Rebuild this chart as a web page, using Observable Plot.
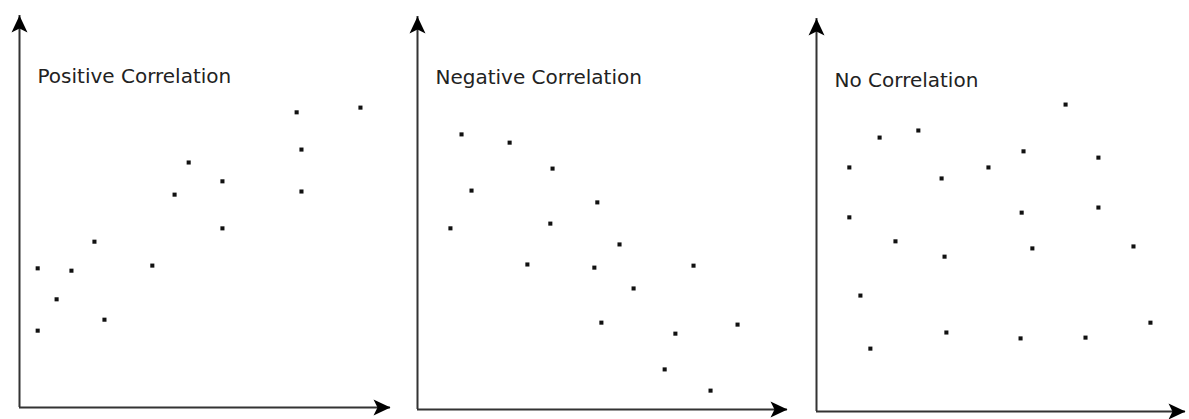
<!DOCTYPE html>
<html>
<head>
<meta charset="utf-8">
<script src="https://cdn.jsdelivr.net/npm/d3@7"></script>
<script src="https://cdn.jsdelivr.net/npm/@observablehq/plot@0.6"></script>
<style>
  html, body { margin: 0; padding: 0; background: #fff; }
  #row { display: flex; flex-direction: row; width: 1189px; height: 419px; }
  #row svg { display: block; }
</style>
</head>
<body>
<div id="row"></div>
<script>
// Panel titles
const titles = ["Positive Correlation", "Negative Correlation", "No Correlation"];

// Positive correlation (x, y in 0–10 axis units)
const positiveX = [7.47, 9.19, 7.60, 4.56, 5.47, 4.18, 7.60, 5.47, 2.02, 0.49, 1.40, 3.58, 1.00, 2.29, 0.49];
const positiveY = [7.53, 7.65, 6.58, 6.25, 5.77, 5.43, 5.51, 4.57, 4.23, 3.55, 3.49, 3.62, 2.76, 2.24, 1.96];

// Negative correlation
const negativeX = [1.19, 2.49, 3.65, 1.46, 4.86, 3.59, 0.89, 5.46, 2.97, 4.78, 7.46, 5.84, 4.97, 8.65, 6.97, 6.68, 7.92];
const negativeY = [7.00, 6.79, 6.13, 5.57, 5.27, 4.73, 4.61, 4.20, 3.69, 3.61, 3.66, 3.08, 2.21, 2.16, 1.93, 1.02, 0.48];

// No correlation
const noneX = [6.75, 2.76, 1.71, 5.61, 7.64, 0.89, 4.66, 3.39, 0.89, 5.56, 7.64, 2.14, 3.47, 5.85, 8.59, 1.19, 1.46, 3.52, 5.53, 7.29, 9.05];
const noneY = [7.81, 7.15, 6.97, 6.62, 6.46, 6.21, 6.21, 5.93, 4.94, 5.06, 5.19, 4.33, 3.94, 4.15, 4.20, 2.95, 1.60, 2.01, 1.86, 1.88, 2.26];

// Axis extent (arrow tips)
const axisMax = 10;

// Filled, notched arrowheads (tip at the symbol origin)
const arrowUp = { draw(ctx) { ctx.moveTo(0, 0); ctx.lineTo(8, 17); ctx.lineTo(0, 13); ctx.lineTo(-8, 17); ctx.closePath(); } };
const arrowRight = { draw(ctx) { ctx.moveTo(0, 0); ctx.lineTo(-17, 8); ctx.lineTo(-13, 0); ctx.lineTo(-17, -8); ctx.closePath(); } };

const panels = [
  { title: titles[0], xs: positiveX, ys: positiveY, width: 396, ml: 19, mr: 6, mt: 15, mb: 12, dy: 61 },
  { title: titles[1], xs: negativeX, ys: negativeY, width: 397, ml: 21, mr: 6, mt: 16, mb: 10, dy: 61 },
  { title: titles[2], xs: noneX, ys: noneY, width: 396, ml: 23, mr: 4, mt: 18, mb: 8, dy: 62 }
];

const row = document.getElementById("row");
for (const p of panels) {
  const pts = p.xs.map((x, i) => ({ x, y: p.ys[i] }));
  const chart = Plot.plot({
    width: p.width,
    height: 419,
    marginLeft: p.ml,
    marginRight: p.mr,
    marginTop: p.mt,
    marginBottom: p.mb,
    x: { domain: [0, axisMax], axis: null },
    y: { domain: [0, axisMax], axis: null },
    style: { background: "#fff", overflow: "visible" },
    marks: [
      Plot.ruleX([0], { stroke: "#333", strokeWidth: 2 }),
      Plot.ruleY([0], { stroke: "#333", strokeWidth: 2 }),
      Plot.dot([{ x: 0, y: axisMax }], { x: "x", y: "y", symbol: arrowUp, fill: "#000", stroke: "none" }),
      Plot.dot([{ x: axisMax, y: 0 }], { x: "x", y: "y", symbol: arrowRight, fill: "#000", stroke: "none" }),
      Plot.text([p.title], {
        text: d => d, frameAnchor: "top-left", textAnchor: "start", lineAnchor: "middle",
        dx: 18, dy: p.dy, fontFamily: "DejaVu Sans", fontSize: 20, fill: "#222"
      }),
      Plot.dot(pts, { x: "x", y: "y", symbol: "square", r: 2.3, fill: "#111", stroke: "none" })
    ]
  });
  row.appendChild(chart);
}
</script>
</body>
</html>
